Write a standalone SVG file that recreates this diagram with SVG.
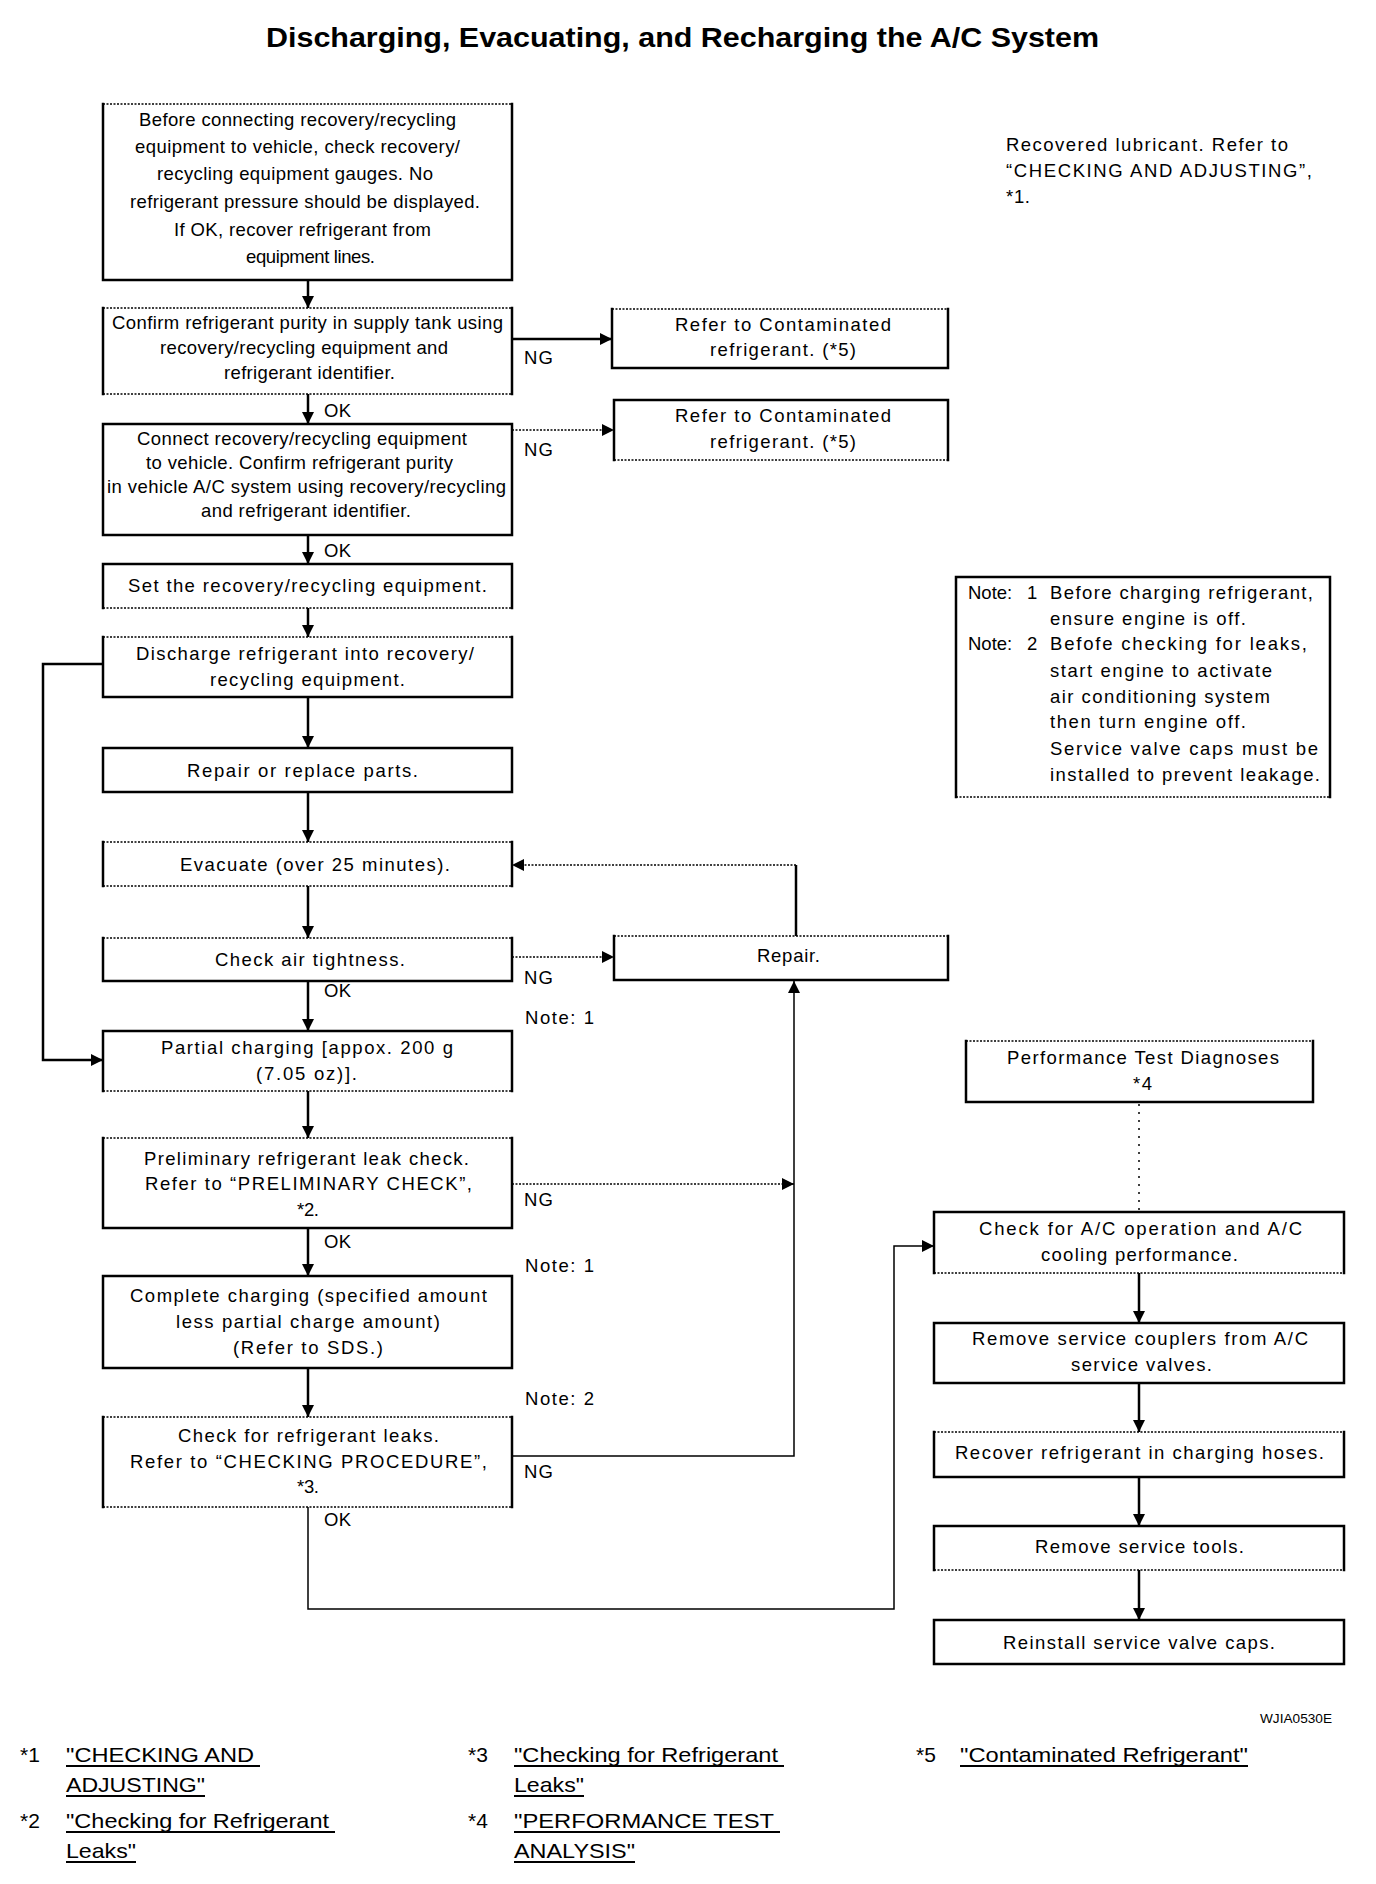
<svg xmlns="http://www.w3.org/2000/svg" width="1376" height="1884" viewBox="0 0 1376 1884">
<style>
.t{font-family:"Liberation Sans",Arial,sans-serif;font-size:18.5px;fill:#000}
.ti{font-family:"Liberation Sans",Arial,sans-serif;font-size:28px;font-weight:bold;fill:#000}
.f{font-family:"Liberation Sans",Arial,sans-serif;font-size:21px;fill:#000}
.sm{font-family:"Liberation Sans",Arial,sans-serif;font-size:12px;fill:#000}
.s{fill:none;stroke:#000;stroke-width:2.5;stroke-linecap:square}
.d{fill:none;stroke:#000;stroke-width:1.3;stroke-dasharray:2 1.5}
.c{fill:none;stroke:#000;stroke-width:2.5}
.cd{fill:none;stroke:#000;stroke-width:1.3;stroke-dasharray:2 1.5}
.ct{fill:none;stroke:#000;stroke-width:1.5}
.dots{fill:none;stroke:#000;stroke-width:1.5;stroke-dasharray:2 6}
.u{stroke:#000;stroke-width:2}
</style>
<defs>
<marker id="ah" viewBox="0 0 12 12" refX="12" refY="6" markerWidth="12" markerHeight="12" markerUnits="userSpaceOnUse" orient="auto">
<path d="M0,0 L12,6 L0,12 z" fill="#000"/>
</marker>
</defs>
<rect x="0" y="0" width="1376" height="1884" fill="#fff"/>

<text class="ti" x="266" y="47" textLength="833" lengthAdjust="spacingAndGlyphs">Discharging, Evacuating, and Recharging the A/C System</text>

<g id="connectors">
<line class="c" x1="308" y1="280" x2="308" y2="308" marker-end="url(#ah)"/>
<line class="c" x1="308" y1="394" x2="308" y2="424" marker-end="url(#ah)"/>
<line class="c" x1="308" y1="535" x2="308" y2="564" marker-end="url(#ah)"/>
<line class="c" x1="308" y1="608" x2="308" y2="637" marker-end="url(#ah)"/>
<line class="c" x1="308" y1="697" x2="308" y2="748" marker-end="url(#ah)"/>
<line class="c" x1="308" y1="792" x2="308" y2="842" marker-end="url(#ah)"/>
<line class="c" x1="308" y1="886" x2="308" y2="938" marker-end="url(#ah)"/>
<line class="c" x1="308" y1="981" x2="308" y2="1031" marker-end="url(#ah)"/>
<line class="c" x1="308" y1="1091" x2="308" y2="1138" marker-end="url(#ah)"/>
<line class="c" x1="308" y1="1228" x2="308" y2="1276" marker-end="url(#ah)"/>
<line class="c" x1="308" y1="1368" x2="308" y2="1417" marker-end="url(#ah)"/>
<polyline class="c" points="103,664 43,664 43,1060 103,1060" marker-end="url(#ah)"/>
<line class="c" x1="512" y1="339" x2="612" y2="339" marker-end="url(#ah)"/>
<line class="cd" x1="512" y1="430" x2="614" y2="430" marker-end="url(#ah)"/>
<line class="cd" x1="512" y1="957" x2="614" y2="957" marker-end="url(#ah)"/>
<line class="c" x1="796" y1="936" x2="796" y2="865"/>
<line class="cd" x1="796" y1="865" x2="512" y2="865" marker-end="url(#ah)"/>
<line class="cd" x1="512" y1="1184" x2="794" y2="1184" marker-end="url(#ah)"/>
<polyline class="ct" points="512,1456 794,1456 794,981" marker-end="url(#ah)"/>
<polyline class="ct" points="308,1507 308,1609 894,1609 894,1246 934,1246" marker-end="url(#ah)"/>
<line class="dots" x1="1139" y1="1104" x2="1139" y2="1212"/>
<line class="c" x1="1139" y1="1273" x2="1139" y2="1323" marker-end="url(#ah)"/>
<line class="c" x1="1139" y1="1383" x2="1139" y2="1432" marker-end="url(#ah)"/>
<line class="c" x1="1139" y1="1477" x2="1139" y2="1526" marker-end="url(#ah)"/>
<line class="c" x1="1139" y1="1570" x2="1139" y2="1620" marker-end="url(#ah)"/>
</g>

<g id="labels">
<text class="t" x="324" y="417" textLength="27">OK</text>
<text class="t" x="324" y="557" textLength="27">OK</text>
<text class="t" x="324" y="997" textLength="27">OK</text>
<text class="t" x="324" y="1248" textLength="27">OK</text>
<text class="t" x="324" y="1526" textLength="27">OK</text>
<text class="t" x="524" y="364" textLength="29">NG</text>
<text class="t" x="524" y="456" textLength="29">NG</text>
<text class="t" x="524" y="984" textLength="29">NG</text>
<text class="t" x="524" y="1206" textLength="29">NG</text>
<text class="t" x="524" y="1478" textLength="29">NG</text>
<text class="t" x="525" y="1024" textLength="69" lengthAdjust="spacing">Note:  1</text>
<text class="t" x="525" y="1272" textLength="69" lengthAdjust="spacing">Note:  1</text>
<text class="t" x="525" y="1405" textLength="69" lengthAdjust="spacing">Note:  2</text>
</g>

<g id="n1">
<path class="s" d="M103 104V280M512 104V280M103 280H512"/>
<path class="d" d="M103 104H512"/>
<text class="t" x="139" y="126" textLength="317">Before connecting recovery/recycling</text>
<text class="t" x="135" y="153" textLength="325">equipment to vehicle, check recovery/</text>
<text class="t" x="157" y="180" textLength="276">recycling equipment gauges. No</text>
<text class="t" x="130" y="208" textLength="350">refrigerant pressure should be displayed.</text>
<text class="t" x="174" y="236" textLength="257">If OK, recover refrigerant from</text>
<text class="t" x="246" y="263" textLength="129">equipment lines.</text>
</g>
<g id="n2">
<path class="s" d="M103 308V394M512 308V394"/>
<path class="d" d="M103 308H512M103 394H512"/>
<text class="t" x="112" y="329" textLength="391">Confirm refrigerant purity in supply tank using</text>
<text class="t" x="160" y="354" textLength="288">recovery/recycling equipment and</text>
<text class="t" x="224" y="379" textLength="171">refrigerant identifier.</text>
</g>
<g id="n3">
<path class="s" d="M103 424V535M512 424V535M103 424H512M103 535H512"/>
<text class="t" x="137" y="445" textLength="330">Connect recovery/recycling equipment</text>
<text class="t" x="146" y="469" textLength="307">to vehicle. Confirm refrigerant purity</text>
<text class="t" x="107" y="493" textLength="399">in vehicle A/C system using recovery/recycling</text>
<text class="t" x="201" y="517" textLength="210">and refrigerant identifier.</text>
</g>
<g id="n4">
<path class="s" d="M103 564V608M512 564V608M103 564H512"/>
<path class="d" d="M103 608H512"/>
<text class="t" x="128" y="592" textLength="359">Set the recovery/recycling equipment.</text>
</g>
<g id="n5">
<path class="s" d="M103 637V697M512 637V697M103 697H512"/>
<path class="d" d="M103 637H512"/>
<text class="t" x="136" y="660" textLength="338">Discharge refrigerant into recovery/</text>
<text class="t" x="210" y="686" textLength="195">recycling equipment.</text>
</g>
<g id="n6">
<path class="s" d="M103 748V792M512 748V792M103 748H512M103 792H512"/>
<text class="t" x="187" y="777" textLength="231">Repair or replace parts.</text>
</g>
<g id="n7">
<path class="s" d="M103 842V886M512 842V886"/>
<path class="d" d="M103 842H512M103 886H512"/>
<text class="t" x="180" y="871" textLength="270">Evacuate (over 25 minutes).</text>
</g>
<g id="n8">
<path class="s" d="M103 938V981M512 938V981M103 981H512"/>
<path class="d" d="M103 938H512"/>
<text class="t" x="215" y="966" textLength="190">Check air tightness.</text>
</g>
<g id="n9">
<path class="s" d="M103 1031V1091M512 1031V1091M103 1031H512"/>
<path class="d" d="M103 1091H512"/>
<text class="t" x="161" y="1054" textLength="292">Partial charging [appox. 200 g</text>
<text class="t" x="256" y="1080" textLength="101">(7.05 oz)].</text>
</g>
<g id="n10">
<path class="s" d="M103 1138V1228M512 1138V1228M103 1228H512"/>
<path class="d" d="M103 1138H512"/>
<text class="t" x="144" y="1165" textLength="325">Preliminary refrigerant leak check.</text>
<text class="t" x="145" y="1190" textLength="327">Refer to “PRELIMINARY CHECK”,</text>
<text class="t" x="297" y="1216" textLength="22">*2.</text>
</g>
<g id="n11">
<path class="s" d="M103 1276V1368M512 1276V1368M103 1276H512M103 1368H512"/>
<text class="t" x="130" y="1302" textLength="357">Complete charging (specified amount</text>
<text class="t" x="176" y="1328" textLength="264">less partial charge amount)</text>
<text class="t" x="233" y="1354" textLength="150">(Refer to SDS.)</text>
</g>
<g id="n12">
<path class="s" d="M103 1417V1507M512 1417V1507"/>
<path class="d" d="M103 1417H512M103 1507H512"/>
<text class="t" x="178" y="1442" textLength="261">Check for refrigerant leaks.</text>
<text class="t" x="130" y="1468" textLength="357">Refer to “CHECKING PROCEDURE”,</text>
<text class="t" x="297" y="1493" textLength="22">*3.</text>
</g>
<g id="c1">
<path class="s" d="M612 309V368M948 309V368M612 368H948"/>
<path class="d" d="M612 309H948"/>
<text class="t" x="675" y="331" textLength="216">Refer to Contaminated</text>
<text class="t" x="710" y="356" textLength="146">refrigerant. (*5)</text>
</g>
<g id="c2">
<path class="s" d="M614 400V460M948 400V460M614 400H948"/>
<path class="d" d="M614 460H948"/>
<text class="t" x="675" y="422" textLength="216">Refer to Contaminated</text>
<text class="t" x="710" y="448" textLength="146">refrigerant. (*5)</text>
</g>
<g id="repair">
<path class="s" d="M614 936V980M948 936V980M614 980H948"/>
<path class="d" d="M614 936H948"/>
<text class="t" x="757" y="962" textLength="63">Repair.</text>
</g>
<g id="lubricant">
<text class="t" x="1006" y="151" textLength="282">Recovered lubricant. Refer to</text>
<text class="t" x="1006" y="177" textLength="306">“CHECKING AND ADJUSTING”,</text>
<text class="t" x="1006" y="203" textLength="24">*1.</text>
</g>
<g id="notes">
<path class="s" d="M956 577V797M1330 577V797M956 577H1330"/>
<path class="d" d="M956 797H1330"/>
<text class="t" x="968" y="599">Note:</text>
<text class="t" x="1027" y="599">1</text>
<text class="t" x="1050" y="599" textLength="263">Before charging refrigerant,</text>
<text class="t" x="1050" y="625" textLength="196">ensure engine is off.</text>
<text class="t" x="968" y="650">Note:</text>
<text class="t" x="1027" y="650">2</text>
<text class="t" x="1050" y="650" textLength="257">Befofe checking for leaks,</text>
<text class="t" x="1050" y="677" textLength="222">start engine to activate</text>
<text class="t" x="1050" y="703" textLength="220">air conditioning system</text>
<text class="t" x="1050" y="728" textLength="196">then turn engine off.</text>
<text class="t" x="1050" y="755" textLength="268">Service valve caps must be</text>
<text class="t" x="1050" y="781" textLength="270">installed to prevent leakage.</text>
</g>
<g id="perf">
<path class="s" d="M966 1041V1102M1313 1041V1102M966 1102H1313"/>
<path class="d" d="M966 1041H1313"/>
<text class="t" x="1007" y="1064" textLength="272">Performance Test Diagnoses</text>
<text class="t" x="1133" y="1090" textLength="19">*4</text>
</g>
<g id="chk">
<path class="s" d="M934 1212V1273M1344 1212V1273M934 1212H1344"/>
<path class="d" d="M934 1273H1344"/>
<text class="t" x="979" y="1235" textLength="323">Check for A/C operation and A/C</text>
<text class="t" x="1041" y="1261" textLength="197">cooling performance.</text>
</g>
<g id="rem">
<path class="s" d="M934 1323V1383M1344 1323V1383M934 1323H1344M934 1383H1344"/>
<text class="t" x="972" y="1345" textLength="336">Remove service couplers from A/C</text>
<text class="t" x="1071" y="1371" textLength="141">service valves.</text>
</g>
<g id="rec">
<path class="s" d="M934 1432V1477M1344 1432V1477M934 1477H1344"/>
<path class="d" d="M934 1432H1344"/>
<text class="t" x="955" y="1459" textLength="369">Recover refrigerant in charging hoses.</text>
</g>
<g id="tools">
<path class="s" d="M934 1526V1570M1344 1526V1570M934 1526H1344"/>
<path class="d" d="M934 1570H1344"/>
<text class="t" x="1035" y="1553" textLength="209">Remove service tools.</text>
</g>
<g id="reinst">
<path class="s" d="M934 1620V1664M1344 1620V1664M934 1620H1344M934 1664H1344"/>
<text class="t" x="1003" y="1649" textLength="272">Reinstall service valve caps.</text>
</g>

<text class="sm" x="1260" y="1723" textLength="72" lengthAdjust="spacingAndGlyphs">WJIA0530E</text>

<g id="footnotes">
<text class="f" x="20" y="1762">*1</text>
<text class="f" x="66" y="1762" textLength="188" lengthAdjust="spacingAndGlyphs">"CHECKING AND</text>
<line class="u" x1="66" y1="1766" x2="260" y2="1766"/>
<text class="f" x="66" y="1792" textLength="139" lengthAdjust="spacingAndGlyphs">ADJUSTING"</text>
<line class="u" x1="66" y1="1796" x2="205" y2="1796"/>
<text class="f" x="20" y="1828">*2</text>
<text class="f" x="66" y="1828" textLength="263" lengthAdjust="spacingAndGlyphs">"Checking for Refrigerant</text>
<line class="u" x1="66" y1="1832" x2="335" y2="1832"/>
<text class="f" x="66" y="1858" textLength="70" lengthAdjust="spacingAndGlyphs">Leaks"</text>
<line class="u" x1="66" y1="1862" x2="136" y2="1862"/>
<text class="f" x="468" y="1762">*3</text>
<text class="f" x="514" y="1762" textLength="264" lengthAdjust="spacingAndGlyphs">"Checking for Refrigerant</text>
<line class="u" x1="514" y1="1766" x2="784" y2="1766"/>
<text class="f" x="514" y="1792" textLength="70" lengthAdjust="spacingAndGlyphs">Leaks"</text>
<line class="u" x1="514" y1="1796" x2="584" y2="1796"/>
<text class="f" x="468" y="1828">*4</text>
<text class="f" x="514" y="1828" textLength="260" lengthAdjust="spacingAndGlyphs">"PERFORMANCE TEST</text>
<line class="u" x1="514" y1="1832" x2="780" y2="1832"/>
<text class="f" x="514" y="1858" textLength="121" lengthAdjust="spacingAndGlyphs">ANALYSIS"</text>
<line class="u" x1="514" y1="1862" x2="635" y2="1862"/>
<text class="f" x="916" y="1762">*5</text>
<text class="f" x="960" y="1762" textLength="288" lengthAdjust="spacingAndGlyphs">"Contaminated Refrigerant"</text>
<line class="u" x1="960" y1="1766" x2="1248" y2="1766"/>
</g>
</svg>
